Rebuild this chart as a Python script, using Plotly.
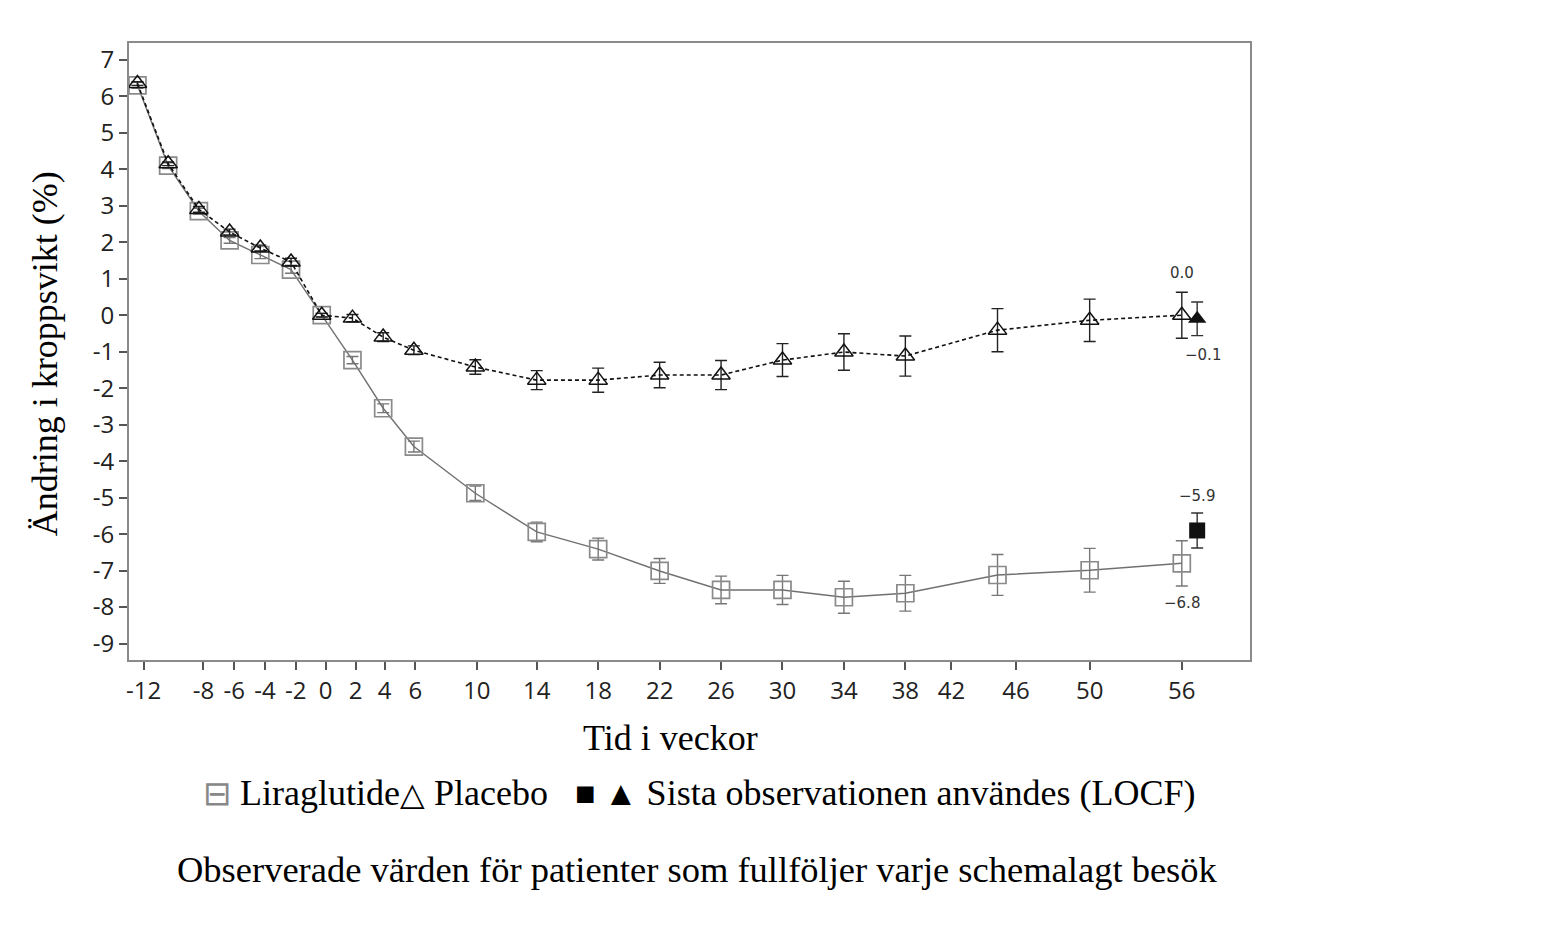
import plotly.graph_objects as go

# visit weeks (run-in from -12, randomisation at 0)
weeks = [-12, -10, -8, -6, -4, -2, 0, 2, 4, 6, 10, 14, 18, 22, 26, 30, 34, 38, 44, 50, 56]

lira = [6.3, 4.1, 2.85, 2.05, 1.65, 1.25, 0.0, -1.23, -2.55, -3.6, -4.88, -5.94,
        -6.41, -7.01, -7.53, -7.53, -7.73, -7.62, -7.12, -6.99, -6.8]
lira_err = [0.08, 0.08, 0.08, 0.08, 0.1, 0.1, 0.05, 0.1, 0.12, 0.15, 0.2, 0.27,
            0.3, 0.34, 0.38, 0.4, 0.44, 0.49, 0.56, 0.6, 0.62]

placebo = [6.35, 4.15, 2.9, 2.28, 1.84, 1.46, 0.0, -0.08, -0.6, -0.96, -1.42, -1.78,
           -1.78, -1.64, -1.64, -1.23, -1.01, -1.12, -0.41, -0.14, 0.0]
placebo_err = [0.05, 0.05, 0.08, 0.08, 0.08, 0.1, 0.05, 0.1, 0.12, 0.12, 0.2, 0.26,
               0.33, 0.35, 0.4, 0.45, 0.5, 0.55, 0.59, 0.58, 0.63]

# last observation carried forward (drawn just right of week 56)
locf_week = 57
locf_lira, locf_lira_err = -5.9, 0.48
locf_placebo, locf_placebo_err = -0.1, 0.46

# tick labels and where they sit on the original axis
x_tick_text = ["-12", "-8", "-6", "-4", "-2", "0", "2", "4", "6", "10", "14", "18",
               "22", "26", "30", "34", "38", "42", "46", "50", "56"]
x_tick_pos = [-11.6, -7.7, -5.7, -3.7, -1.7, 0.25, 2.2, 4.1, 6.1, 10.1, 14, 18,
              22, 26, 30, 34, 38, 41, 45.2, 50, 56]
y_ticks = list(range(-9, 8))
y_tick_text = [str(v) for v in y_ticks]

GRAY = "#8a8a8a"
serif = "Liberation Serif"

fig = go.Figure()

fig.add_trace(go.Scatter(
    x=weeks, y=lira, mode="lines+markers",
    line=dict(color="#707070", width=1.4),
    marker=dict(symbol="square-open", size=17, color=GRAY, line=dict(width=1.7)),
    error_y=dict(type="data", array=lira_err, color="#777", thickness=1.4, width=6),
    showlegend=False,
))
fig.add_trace(go.Scatter(
    x=weeks, y=placebo, mode="lines+markers",
    line=dict(color="#111", width=1.6, dash="4px,3px"),
    marker=dict(symbol="triangle-up-open", size=16, color="#111", line=dict(width=1.5)),
    error_y=dict(type="data", array=placebo_err, color="#222", thickness=1.4, width=6),
    showlegend=False,
))
fig.add_trace(go.Scatter(
    x=[locf_week], y=[locf_lira], mode="markers",
    marker=dict(symbol="square", size=16, color="#111"),
    error_y=dict(type="data", array=[locf_lira_err], color="#333", thickness=1.4, width=6),
    showlegend=False,
))
fig.add_trace(go.Scatter(
    x=[locf_week], y=[locf_placebo], mode="markers",
    marker=dict(symbol="triangle-up", size=16, color="#111"),
    error_y=dict(type="data", array=[locf_placebo_err], color="#333", thickness=1.4, width=6),
    showlegend=False,
))


def fmt(v):
    return f"{v:.1f}".replace("-", "\u2212")


val_font = dict(family="DejaVu Sans", size=15, color="#333")
fig.add_annotation(x=weeks[-1], y=placebo[-1], text=fmt(abs(placebo[-1])), showarrow=False,
                   yshift=42, font=val_font)
fig.add_annotation(x=locf_week, y=locf_placebo, text=fmt(locf_placebo), showarrow=False,
                   yshift=-36, xshift=6, font=val_font)
fig.add_annotation(x=locf_week, y=locf_lira, text=fmt(locf_lira), showarrow=False,
                   yshift=34, font=val_font)
fig.add_annotation(x=weeks[-1], y=lira[-1], text=fmt(lira[-1]), showarrow=False,
                   yshift=-40, font=val_font)

# axis titles and legend line drawn as text
title_font = dict(family=serif, size=36, color="#000")
fig.add_annotation(xref="paper", yref="paper", x=-0.075, y=0.497, textangle=-90,
                   xanchor="center", yanchor="middle",
                   text="Ändring i kroppsvikt (%)", showarrow=False, font=title_font)
fig.add_annotation(xref="paper", yref="paper", x=0.483, y=-0.1264,
                   xanchor="center", yanchor="middle",
                   text="Tid i veckor", showarrow=False, font=title_font)
fig.add_annotation(
    xref="paper", yref="paper", x=0.509, y=-0.2155, xanchor="center", yanchor="middle",
    showarrow=False,
    text=("<span style='color:#888;font-size:34px'>\u229f</span> Liraglutide"
          "<span style='font-size:32px'>\u25b3</span> Placebo &nbsp; "
          "<span style='font-size:34px'>\u25a0 \u25b2</span> Sista observationen användes (LOCF)"),
    font=title_font)
fig.add_annotation(xref="paper", yref="paper", x=0.507, y=-0.3402,
                   xanchor="center", yanchor="middle", showarrow=False,
                   text="Observerade värden för patienter som fullföljer varje schemalagt besök",
                   font=dict(family=serif, size=36.5, color="#000"))

axis_common = dict(showline=True, linecolor="#8a8a8a", linewidth=2, mirror=True,
                   showgrid=False, zeroline=False, ticks="outside", ticklen=8,
                   tickcolor="#555", tickwidth=1.5,
                   tickfont=dict(family="Open Sans", size=24, color="#222"))

fig.update_xaxes(range=[-12.55, 60.44], tickvals=x_tick_pos, ticktext=x_tick_text, **axis_common)
fig.update_yaxes(range=[-9.45, 7.46], tickvals=y_ticks, ticktext=y_tick_text, **axis_common)

# the page body adds an 8px offset, so margins are trimmed to keep the plot box in place
fig.update_layout(
    width=1552, height=926,
    margin=dict(l=121, r=310, t=35, b=274),
    paper_bgcolor="white", plot_bgcolor="white",
)

fig.write_html("out.html")
